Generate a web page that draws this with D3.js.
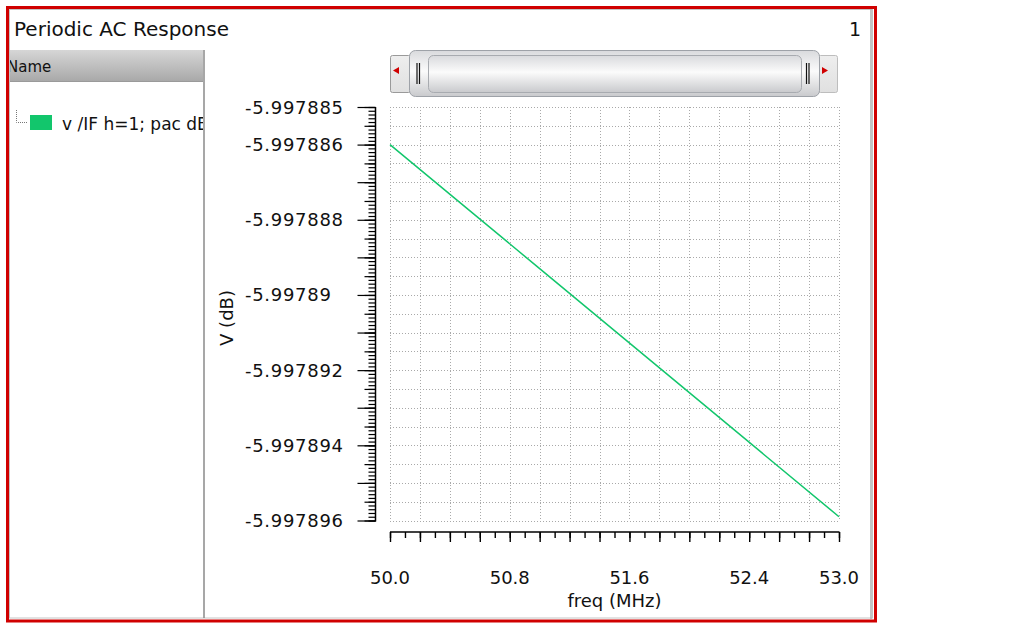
<!DOCTYPE html>
<html><head><meta charset="utf-8">
<script src="https://cdn.jsdelivr.net/npm/d3@7"></script>
<style>body{margin:0;background:#fff;} svg{display:block;font-family:"DejaVu Sans",sans-serif;}</style>
</head><body><svg id="c" width="1013" height="627"></svg>
<script>
// ---- data ----
const freqMHz = [50.0, 50.5, 51.0, 51.5, 52.0, 52.5, 53.0];
const vdB = [-5.9978860, -5.99788765, -5.9978893, -5.99789095, -5.9978926, -5.99789425, -5.9978959];
const xTickLabels = ["50.0", "50.8", "51.6", "52.4", "53.0"];
const yTickLabels = ["-5.997885", "-5.997886", "-5.997888", "-5.99789", "-5.997892", "-5.997894", "-5.997896"];
const xDomain = [50.0, 53.0];
const yDomain = [-5.997896, -5.997885];
const seriesName = "v /IF h=1; pac dB";
const chartTitle = "Periodic AC Response";
const xTitle = "freq (MHz)";
const yTitle = "V (dB)";

// ---- layout ----
const svg = d3.select("#c");
const plot = {l: 390, r: 839, t: 107, b: 520.5};
const x = d3.scaleLinear().domain(xDomain).range([plot.l, plot.r]);
const y = d3.scaleLinear().domain(yDomain).range([plot.b, plot.t]);
const green = "#12c66c";

const defs = svg.append("defs");
const g1 = defs.append("linearGradient").attr("id","hdr").attr("x1",0).attr("y1",0).attr("x2",0).attr("y2",1);
g1.append("stop").attr("offset","0").attr("stop-color","#d6d6d6");
g1.append("stop").attr("offset","1").attr("stop-color","#a9a9a9");
const g2 = defs.append("linearGradient").attr("id","thumb").attr("x1",0).attr("y1",0).attr("x2",0).attr("y2",1);
g2.append("stop").attr("offset","0").attr("stop-color","#d9dadd");
g2.append("stop").attr("offset","0.45").attr("stop-color","#fbfbfb");
g2.append("stop").attr("offset","1").attr("stop-color","#c9cacd");
const g3 = defs.append("linearGradient").attr("id","btn").attr("x1",0).attr("y1",0).attr("x2",0).attr("y2",1);
g3.append("stop").attr("offset","0").attr("stop-color","#eeeeee");
g3.append("stop").attr("offset","1").attr("stop-color","#e0e0e0");
defs.append("clipPath").attr("id","panelclip").append("rect").attr("x",10).attr("y",50).attr("width",193).attr("height",566);
defs.append("clipPath").attr("id","plotclip").append("rect").attr("x",plot.l-1).attr("y",plot.t-2).attr("width",plot.r-plot.l+2).attr("height",plot.b-plot.t+4);

// frame
svg.append("rect").attr("x",7.5).attr("y",7.5).attr("width",868).attr("height",613.5)
  .attr("fill","#fff").attr("stroke","#d00000").attr("stroke-width",3);
svg.append("rect").attr("x",9.5).attr("y",9.5).attr("width",863).attr("height",608.5)
  .attr("fill","none").attr("stroke","#c4c4c4").attr("stroke-width",1);
svg.append("line").attr("x1",871).attr("x2",871).attr("y1",9).attr("y2",619).attr("stroke","#b0b0b0").attr("stroke-width",1.5);

// title
svg.append("text").attr("x",14).attr("y",36).attr("font-size",20).attr("fill","#111").text(chartTitle);
svg.append("text").attr("x",861).attr("y",36).attr("font-size",19).attr("text-anchor","end").attr("fill","#111").text("1");

// left panel
const panel = svg.append("g").attr("clip-path","url(#panelclip)");
panel.append("rect").attr("x",10).attr("y",50).attr("width",194).attr("height",31).attr("fill","url(#hdr)");
panel.append("line").attr("x1",10).attr("x2",204).attr("y1",81.5).attr("y2",81.5).attr("stroke","#9a9a9a");
panel.append("text").attr("x",7).attr("y",72).attr("font-size",15).attr("fill","#111").text("Name");
// tree connector
panel.append("path").attr("d","M16.5,110 V122.5 H27").attr("fill","none").attr("stroke","#777").attr("stroke-dasharray","1,1");
panel.append("rect").attr("x",30).attr("y",115).attr("width",22).attr("height",15).attr("fill",green);
panel.append("text").attr("x",62).attr("y",130).attr("font-size",17).attr("fill","#111").text(seriesName);
svg.append("line").attr("x1",204).attr("x2",204).attr("y1",50).attr("y2",618).attr("stroke","#8a8a8a").attr("stroke-width",1.5);

// scrollbar
const sb = svg.append("g");
sb.append("rect").attr("x",390.5).attr("y",55.5).attr("width",20).attr("height",37).attr("rx",2).attr("fill","url(#btn)").attr("stroke","#9a9a9a");
sb.append("rect").attr("x",818.5).attr("y",55.5).attr("width",19).attr("height",37).attr("rx",2).attr("fill","url(#btn)").attr("stroke","#bdbdbd");
sb.append("path").attr("d","M393,70.5 L399,67 L399,74 Z").attr("fill","#d00000");
sb.append("path").attr("d","M828,70.5 L822,67 L822,74 Z").attr("fill","#d00000");
sb.append("rect").attr("x",409.5).attr("y",50.5).attr("width",410).attr("height",46).attr("rx",6).attr("fill","url(#thumb)").attr("stroke","#9ea2a8");
sb.append("rect").attr("x",428.5).attr("y",55.5).attr("width",373).attr("height",37).attr("rx",5).attr("fill","url(#thumb)").attr("stroke","#a8abb0");
[417, 419.5, 806.5, 809].forEach(px => sb.append("line").attr("x1",px).attr("x2",px).attr("y1",63).attr("y2",84).attr("stroke","#111").attr("stroke-width",1.2));

// grid
const grid = svg.append("g").attr("stroke","#a9a9a9").attr("stroke-dasharray","1,2").attr("stroke-width",1);
x.ticks(15).forEach(v => grid.append("line").attr("x1",Math.round(x(v))+0.5).attr("x2",Math.round(x(v))+0.5).attr("y1",plot.t).attr("y2",plot.b));
y.ticks(22).forEach(v => grid.append("line").attr("y1",Math.round(y(v))+0.5).attr("y2",Math.round(y(v))+0.5).attr("x1",plot.l).attr("x2",plot.r));

// y axis
const yAxisX = 375.5;
const yLabelVals = yTickLabels.map(Number);
function yTicks(vals, size) {
  const ax = d3.axisLeft(y).tickValues(vals).tickSize(size).tickFormat("");
  const g = svg.append("g").attr("transform",`translate(${yAxisX},0)`).call(ax);
  g.select(".domain").remove();
  g.selectAll("line").attr("stroke","#000").attr("stroke-width",1.2);
  return g;
}
yTicks(y.ticks(110), 7);
yTicks(y.ticks(22), 11);
yTicks(y.ticks(11), 18);
svg.append("line").attr("x1",yAxisX).attr("x2",yAxisX).attr("y1",y(yDomain[1])).attr("y2",y(yDomain[0])+1).attr("stroke","#000").attr("stroke-width",1.5);
const yl = svg.append("g");
yLabelVals.forEach((v,i) => yl.append("text").attr("x",245).attr("y",y(v)+6.5).attr("text-anchor","start")
  .attr("font-size",18).attr("letter-spacing","0.7px").attr("fill","#111").text(yTickLabels[i]));
svg.append("text").attr("transform","translate(233,318) rotate(-90)").attr("text-anchor","middle")
  .attr("font-size",18).attr("fill","#111").text(yTitle);

// x axis
const xAxisY = 532;
function xTicks(vals, size) {
  const ax = d3.axisBottom(x).tickValues(vals).tickSize(size).tickFormat("");
  const g = svg.append("g").attr("transform",`translate(0,${xAxisY})`).call(ax);
  g.select(".domain").remove();
  g.selectAll("line").attr("stroke","#000").attr("stroke-width",1.4);
  return g;
}
xTicks(x.ticks(30), 6);
xTicks(x.ticks(15), 10);
svg.append("line").attr("x1",plot.l).attr("x2",plot.r+0.5).attr("y1",xAxisY).attr("y2",xAxisY).attr("stroke","#000").attr("stroke-width",1.5);
xTickLabels.forEach(s => svg.append("text").attr("x",x(+s)).attr("y",584).attr("text-anchor","middle")
  .attr("font-size",18).attr("fill","#111").text(s));
svg.append("text").attr("x",(plot.l+plot.r)/2).attr("y",607).attr("text-anchor","middle")
  .attr("font-size",18).attr("fill","#111").text(xTitle);

// series
const line = d3.line().x((d,i) => x(freqMHz[i])).y(d => y(d));
svg.append("path").datum(vdB).attr("clip-path","url(#plotclip)").attr("d",line)
  .attr("fill","none").attr("stroke",green).attr("stroke-width",1.5);
</script></body></html>
